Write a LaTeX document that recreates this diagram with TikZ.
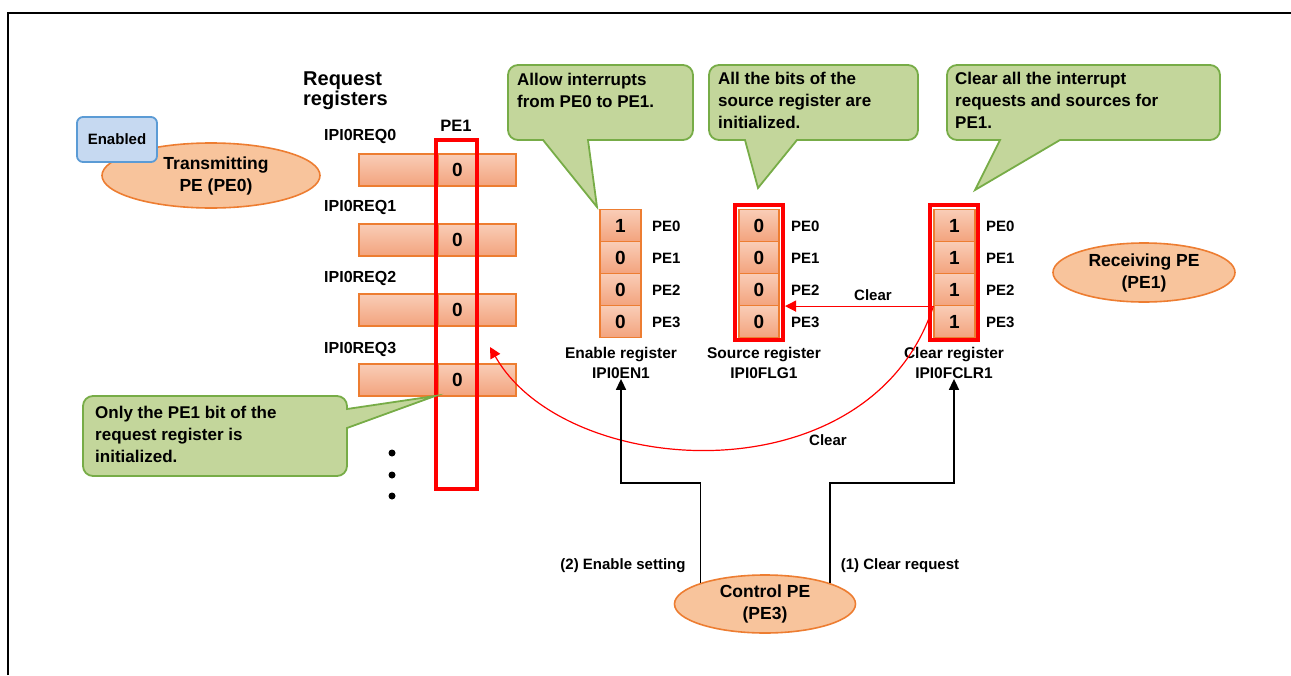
\documentclass[tikz,border=0pt]{standalone}
\usepackage{fontspec}
\setmainfont{Liberation Sans}
\usetikzlibrary{shapes.geometric,arrows.meta}
\definecolor{peach}{HTML}{F8C49C}
\definecolor{orng}{HTML}{ED7D31}
\definecolor{celltop}{HTML}{F9CDB7}
\definecolor{cellbot}{HTML}{F3A37D}
\definecolor{cfill}{HTML}{C3D69B}
\definecolor{cline}{HTML}{77AC47}
\definecolor{bfill}{HTML}{C6D9F1}
\definecolor{bline}{HTML}{5B9BD5}
\definecolor{rred}{HTML}{FF0000}
\begin{document}
\begin{tikzpicture}[x=1pt,y=-1pt,
  lbl/.style={font=\fontsize{15.5}{20}\selectfont\bfseries, inner sep=0, align=center},
  reglbl/.style={font=\fontsize{16}{20}\selectfont\bfseries, inner sep=0, anchor=west},
  pelbl/.style={font=\fontsize{15}{18}\selectfont\bfseries, inner sep=0, anchor=west},
  calltxt/.style={font=\fontsize{17}{22}\selectfont\bfseries, align=left, inner sep=0, anchor=north west},
  cell/.style={draw=orng, line width=1.2, top color=celltop, bottom color=cellbot, minimum width=41, minimum height=32, inner sep=0, font=\fontsize{19}{22}\selectfont\bfseries},
  bar/.style={draw=orng, line width=1.2, top color=celltop, bottom color=cellbot, minimum width=157, minimum height=32, inner sep=0},
  pe/.style={ellipse, draw=orng, line width=1.6, fill=peach, inner sep=0, align=center, font=\fontsize{17.5}{22}\selectfont\bfseries},
  callout/.style={draw=cline, line width=1.8, fill=cfill},
  redbox/.style={draw=rred, line width=4, inner sep=0},
  redarrow/.style={draw=rred, line width=1.2, -{Triangle[length=11,width=11]}},
  blackarrow/.style={draw=black, line width=1.6, -{Triangle[length=11,width=10]}}]
\useasboundingbox (0,0) rectangle (1291,675);
% frame
\draw[line width=2] (8,675) -- (8,13) -- (1291,13);

% transmitting PE
\node[pe, minimum width=218, minimum height=65] (tx) at (211,175.5) {\hspace*{10pt}Transmitting\\\hspace*{10pt}PE (PE0)};
\node[draw=bline, line width=1.8, fill=bfill, rounded corners=6, minimum width=80, minimum height=45, inner sep=0, font=\fontsize{15}{18}\selectfont\bfseries] (en) at (117,139.5) {Enabled};

% request registers
\node[font=\fontsize{20}{20}\selectfont\bfseries, align=left, inner sep=0, anchor=west] (reqtitle) at (303,91) {Request\\registers};
\node[font=\fontsize{16.5}{20}\selectfont\bfseries, inner sep=0] (pe1) at (456,126) {PE1};
\foreach \i/\ly/\by in {0/136/170, 1/207/240, 2/278/310, 3/349/380}{
  \node[reglbl] (reql\i) at (324,\ly) {IPI0REQ\i};
  \node[bar] (req\i) at (437.5,\by) {};
  \node[cell, minimum width=39] (reqc\i) at (457.5,\by) {0};
}
\node[draw=rred, line width=4, minimum width=41, minimum height=348.5, inner sep=0] (pecol) at (456.5,314.25) {};
\foreach \y [count=\k] in {453,475,496}{
  \fill (392,\y) circle (3.5);
}

% enable register
\foreach \v/\p [count=\k from 0] in {1/PE0,0/PE1,0/PE2,0/PE3}{
  \node[cell] (en\k) at (620.5,225.5+32*\k) {\v};
  \node[pelbl] (enl\k) at (652,226.5+32*\k) {\p};
}
\node[lbl] (encap) at (621,363) {Enable register\\IPI0EN1};

% source register
\node[redbox, minimum width=48, minimum height=135] (srcbox) at (759,272.5) {};
\foreach \v/\p [count=\k from 0] in {0/PE0,0/PE1,0/PE2,0/PE3}{
  \node[cell, minimum width=40] (src\k) at (759,225.5+32*\k) {\v};
  \node[pelbl] (srcl\k) at (791,226.5+32*\k) {\p};
}
\node[lbl] (srccap) at (764,363) {Source register\\IPI0FLG1};

% clear register
\node[redbox, minimum width=48, minimum height=135] (clrbox) at (954,272.5) {};
\foreach \v/\p [count=\k from 0] in {1/PE0,1/PE1,1/PE2,1/PE3}{
  \node[cell] (clr\k) at (954.5,225.5+32*\k) {\v};
  \node[pelbl] (clrl\k) at (986,226.5+32*\k) {\p};
}
\node[lbl] (clrcap) at (954,363) {Clear register\\IPI0FCLR1};

% receiving PE, control PE
\node[pe, minimum width=182, minimum height=59] (rx) at (1144,272.5) {Receiving PE\\(PE1)};
\node[pe, minimum width=181, minimum height=58] (ctrl) at (765,604) {Control PE\\(PE3)};

% callouts
\draw[callout] (600,65) [rounded corners=10] -- (693,65) -- (693,140) [sharp corners] -- (588,140) -- (597,207) -- (543,140) [rounded corners=10] -- (508,140) -- (508,65) -- cycle;
\node[calltxt] (c1) at (517,73) {Allow interrupts\\from PE0 to PE1.};
\draw[callout] (800,65) [rounded corners=10] -- (918,65) -- (918,140) [sharp corners] -- (797,140) -- (758,188) -- (745,140) [rounded corners=10] -- (709,140) -- (709,65) -- cycle;
\node[calltxt] (c2) at (718,72) {All the bits of the\\source register are\\initialized.};
\draw[callout] (1100,65) [rounded corners=10] -- (1220,65) -- (1220,140) [sharp corners] -- (1060,140) -- (975,190) -- (1000,140) [rounded corners=10] -- (947,140) -- (947,65) -- cycle;
\node[calltxt] (c3) at (955,72) {Clear all the interrupt\\requests and sources for\\PE1.};
\draw[callout] (200,396) [rounded corners=10] -- (347,396) [sharp corners] -- (347,409) -- (435,396) -- (347,428) [rounded corners=10] -- (347,476) -- (83,476) -- (83,396) -- cycle;
\node[calltxt] (c4) at (95,406) {Only the PE1 bit of the\\request register is\\initialized.};

% red arrows
\draw[redarrow] (clr2.south west) -- (clr2.south west -| srcbox.east);
\node[lbl, font=\fontsize{15}{18}\selectfont\bfseries] (clrlbl1) at (873,295) {Clear};
\coordinate (clrtarget) at (490,347);
\draw[redarrow] (clr2.south west) .. controls (870,500) and (565,480) .. (clrtarget);
\node[lbl, font=\fontsize{15}{18}\selectfont\bfseries] (clrlbl2) at (828,440) {Clear};

% black arrows
\draw[blackarrow] (ctrl.162) -- ++(0,-100) -| (encap.south);
\draw[blackarrow] (ctrl.18) -- ++(0,-100) -| (clrcap.south);
\node[lbl, font=\fontsize{15}{18}\selectfont\bfseries] (l2) at (623,566) {(2) Enable setting};
\node[lbl, font=\fontsize{15}{18}\selectfont\bfseries] (l1) at (900,566) {(1) Clear request};
\end{tikzpicture}
\end{document}
